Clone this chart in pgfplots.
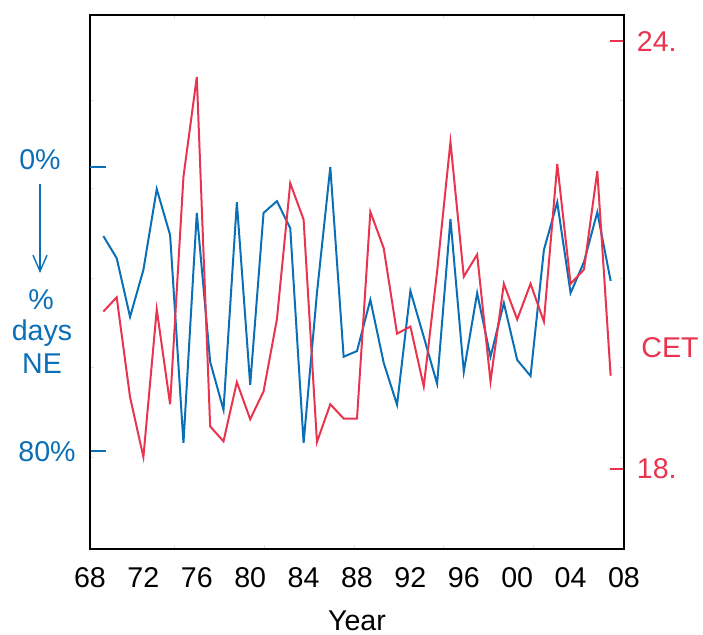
\documentclass[border=0pt]{standalone}
\usepackage{fontspec}
\setmainfont{Liberation Sans}
\usepackage{pgfplots}
\pgfplotsset{compat=1.18}
\usetikzlibrary{arrows.meta}
\definecolor{cblue}{RGB}{10,111,182}
\definecolor{cred}{RGB}{232,52,78}
\newcommand\lab{\fontsize{14.3}{17}\selectfont}
\begin{document}
\begin{tikzpicture}
\useasboundingbox (0,0) rectangle (351.5pt,317.5pt);
\pgfplotsset{frameax/.style={at={(45pt,43pt)}, anchor=south west, scale only axis,
  width=267pt, height=267pt, xmin=1968, xmax=2008,
  /pgf/number format/assume math mode=true}}
% faint frame ticks
\begin{axis}[at={(45pt,43pt)}, anchor=south west, scale only axis, width=267pt, height=267pt,
  xmin=0, xmax=534, ymin=0, ymax=535, y dir=reverse,
  xtick={85,174.5,264,353.5,443}, ytick={85.5,174,264,353.5,443},
  xticklabels={}, yticklabels={},
  tick style={draw=black!12, line width=0.5pt}, major tick length=2pt, tick align=inside,
  axis line style={draw=none}]
\end{axis}
% blue axis (percent days NE, reversed)
\begin{axis}[frameax, ymin=-42.6, ymax=107.4, y dir=reverse, clip=false,
  axis line style={black, line width=1pt},
  xtick={1968,1972,...,2008}, xticklabels={68,72,76,80,84,88,92,96,00,04,08},
  xticklabel style={font=\lab, text=black, anchor=base, inner sep=0pt, yshift=-19.5pt},
  ytick={80}, yticklabels={80\%}, ytick pos=left,
  extra y ticks={0}, extra y tick labels={0\%},
  extra y tick style={grid=none, yticklabel style={yshift=3.7pt, xshift=-3.5pt}},
  tick style={cblue, line width=1pt}, xtick style={draw=none},
  major tick length=8pt, tick align=inside,
  yticklabel style={font=\lab, text=cblue, anchor=center, inner sep=0pt, xshift=-21.5pt}]
\addplot[cblue, line width=1pt] coordinates {
(1969,19.5) (1970,25.7) (1971,42.2) (1972,29.0) (1973,6.3) (1974,19.2) (1975,77.6)
(1976,13.0) (1977,54.8) (1978,68.3) (1979,10.0) (1980,61.3) (1981,13.0) (1982,9.7)
(1983,17.3) (1984,77.6) (1985,35.5) (1986,0.1) (1987,53.4) (1988,51.8) (1989,37.4)
(1990,55.1) (1991,66.9) (1992,34.9) (1993,47.8) (1994,61.0) (1995,14.7) (1996,57.6)
(1997,35.5) (1998,53.4) (1999,38.3) (2000,54.3) (2001,58.8) (2002,23.4) (2003,10.0)
(2004,35.5) (2005,26.8) (2006,12.8) (2007,32.1)};
\end{axis}
% red axis (CET)
\begin{axis}[frameax, ymin=16.88, ymax=24.37, axis x line=none, axis y line*=right,
  axis line style={black, line width=1pt},
  ytick={18,24}, yticklabels={18.,24.},
  tick style={cred, line width=1pt}, major tick length=7pt, tick align=inside,
  yticklabel style={font=\lab, text=cred, anchor=west, inner sep=0pt, xshift=6.25pt}]
\addplot[cred, line width=1pt] coordinates {
(1969,20.21) (1970,20.41) (1971,19.01) (1972,18.17) (1973,20.24) (1974,18.91) (1975,22.10)
(1976,23.50) (1977,18.60) (1978,18.39) (1979,19.22) (1980,18.70) (1981,19.09) (1982,20.10)
(1983,22.01) (1984,21.50) (1985,18.38) (1986,18.91) (1987,18.71) (1988,18.71) (1989,21.61)
(1990,21.10) (1991,19.90) (1992,20.00) (1993,19.16) (1994,20.77) (1995,22.59) (1996,20.70)
(1997,21.01) (1998,19.23) (1999,20.60) (2000,20.10) (2001,20.60) (2002,20.07) (2003,22.28)
(2004,20.60) (2005,20.80) (2006,22.18) (2007,19.31)};
\end{axis}
\node[text=cblue, font=\lab, inner sep=0pt] at (20.5pt,167.5pt) {\%};
\node[text=cblue, font=\lab, inner sep=0pt] at (21pt,151pt) {days};
\node[text=cblue, font=\lab, inner sep=0pt] at (21pt,135.5pt) {NE};
\draw[cblue, line width=0.7pt, -{Straight Barb[length=8pt, width=7pt]}] (20pt,225.5pt) -- (20pt,181pt);
\node[text=cred, font=\lab, inner sep=0pt] at (335pt,143.5pt) {CET};
\node[text=black, font=\lab, inner sep=0pt] at (178.5pt,7pt) {Year};
\end{tikzpicture}
\end{document}
